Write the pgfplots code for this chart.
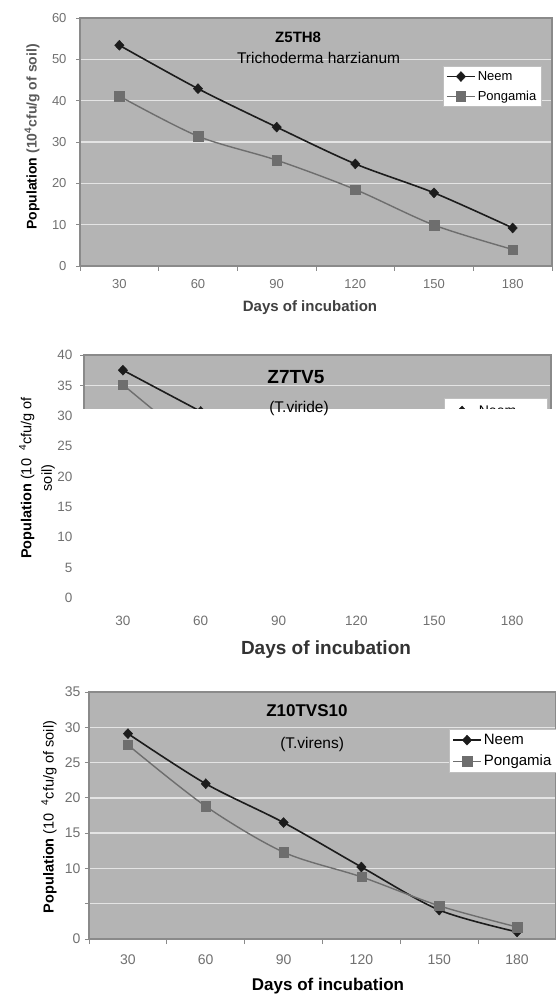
\documentclass[border=0pt]{standalone}
\usepackage{pgfplots}
\pgfplotsset{compat=1.18}
\usepackage{fontspec}
\setmainfont{Liberation Sans}
\definecolor{bg}{HTML}{B4B4B4}
\definecolor{neemc}{HTML}{1C1C1C}
\definecolor{pongc}{HTML}{6E6E6E}
\definecolor{tickc}{HTML}{707070}
\definecolor{gridc}{HTML}{E4E4E4}
\definecolor{framec}{HTML}{8A8A8A}
\newcommand{\fs}[1]{\fontsize{#1}{#1}\selectfont}
\pgfplotsset{
  panel/.style={
    scale only axis, xmin=15, xmax=195, xtick={30,60,...,180},
    minor xtick={15,45,...,195},
    xtick pos=bottom, ytick pos=left,
    tick align=outside, major tick length=4pt, minor tick length=5pt,
    major x tick style={draw=none},
    tick style={color=framec, line width=0.8pt},
    axis background/.style={fill=bg},
    axis line style={draw=framec, line width=1.2pt},
    ymajorgrids, major grid style={color=gridc, line width=1.3pt},
    tick label style={color=tickc},
    /pgf/number format/assume math mode=true,
    legend cell align=left,
    legend style={draw=gray!50, fill=white, inner xsep=3pt, inner ysep=3pt, anchor=north west, row sep=5pt},
    legend image code/.code={\draw[mark repeat=2,mark phase=2,#1] plot coordinates {(0pt,0pt) (14pt,0pt) (28pt,0pt)};},
  },
  neem/.style={color=neemc, line width=1.6pt, mark=diamond*, mark size=5pt, mark options={fill=neemc, xscale=1.25, line width=0.4pt}, smooth},
  pong/.style={color=pongc, line width=1.4pt, mark=square*, mark size=4.7pt, mark options={fill=pongc, line width=0.4pt}, smooth},
}
\begin{document}
\begin{tikzpicture}
\useasboundingbox (0,0) rectangle (555pt,994pt);
% ---------------- Panel 1 ----------------
\begin{axis}[panel, at={(80pt,728pt)}, anchor=south west, width=472pt, height=248pt,
  ymin=0, ymax=60, ytick={0,10,...,60},
  tick label style={font=\fs{13pt}},
  yticklabel style={xshift=-6pt},
  xticklabel style={yshift=-6pt},
  legend style={at={(0.769,0.806)}, font=\fs{13pt}}]
\addplot[neem] coordinates {(30,53.4) (60,42.9) (90,33.6) (120,24.7) (150,17.7) (180,9.2)};
\addlegendentry{Neem}
\addplot[pong] coordinates {(30,41.1) (60,31.4) (90,25.6) (120,18.5) (150,9.9) (180,4.0)};
\addlegendentry{Pongamia}
\node[font=\bfseries\fs{15pt}] at (axis cs:98.2,55.2) {Z5TH8};
\node[font=\fs{15.5pt}] at (axis cs:106,50.3) {Trichoderma harzianum};
\end{axis}
\node[rotate=90, font=\bfseries\fs{14pt}] at (32pt,857pt) {Population {\color{black!65}(10\textsuperscript{4}cfu/g of soil)}};
\node[font=\bfseries\fs{15pt}, text=black!75] at (310pt,686pt) {Days of incubation};
% ---------------- Panel 2 ----------------
\begin{axis}[panel, at={(84pt,396pt)}, anchor=south west, width=467pt, height=243pt,
  ymin=0, ymax=40, ytick={0,5,...,40},
  tick label style={font=\fs{13.5pt}},
  yticklabel style={xshift=-4pt},
  xticklabel style={yshift=-11pt},
  legend style={at={(0.771,0.822)}, font=\fs{14pt}, inner ysep=5pt}]
\addplot[neem, sharp plot] coordinates {(30,37.5) (60,30.7)};
\addlegendentry{Neem}
\addplot[pong, sharp plot] coordinates {(30,35.1) (60,24.5)};
\addlegendentry{Pongamia}
\node[font=\bfseries\fs{19pt}] at (axis cs:96.7,36.4) {Z7TV5};
\end{axis}
\fill[white] (78pt,390pt) rectangle (556pt,585pt);
\node[font=\fs{15.5pt}] at (299pt,586pt) {(T.viride)};
\node[rotate=90, align=center, font=\fs{14.5pt}] at (37pt,516pt) {\textbf{Population} (10 \ \textsuperscript{4}cfu/g of\\[6pt]soil)};
\node[font=\bfseries\fs{19pt}, text=black!80] at (326pt,344pt) {Days of incubation};
% ---------------- Panel 3 ----------------
\begin{axis}[panel, at={(89pt,55pt)}, anchor=south west, width=467pt, height=247pt,
  ymin=0, ymax=35, ytick={0,5,...,35}, yticklabels={0,,10,15,20,25,30,35},
  tick label style={font=\fs{14pt}},
  yticklabel style={xshift=-1pt},
  xticklabel style={yshift=-8pt},
  legend style={at={(0.771,0.850)}, font=\fs{15pt}}]
\addplot[neem] coordinates {(30,29.1) (60,22.0) (90,16.5) (120,10.2) (150,4.1) (180,1.0)};
\addlegendentry{Neem}
\addplot[pong] coordinates {(30,27.5) (60,18.8) (90,12.3) (120,8.8) (150,4.7) (180,1.7)};
\addlegendentry{Pongamia}
\node[font=\bfseries\fs{17pt}] at (axis cs:99,32.4) {Z10TVS10};
\node[font=\fs{15.5pt}] at (axis cs:101,27.6) {(T.virens)};
\end{axis}
\node[rotate=90, font=\fs{14.5pt}] at (49pt,177pt) {\textbf{Population} (10 \ \textsuperscript{4}cfu/g of soil)};
\node[font=\bfseries\fs{17pt}] at (328pt,8pt) {Days of incubation};
\end{tikzpicture}
\end{document}
